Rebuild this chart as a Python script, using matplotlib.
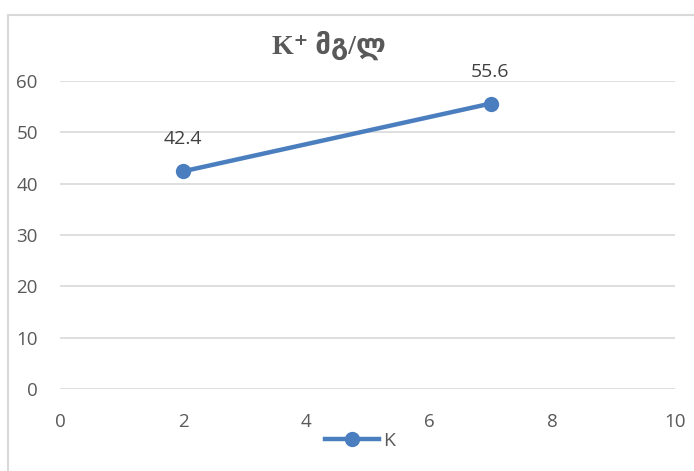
import matplotlib
matplotlib.use("Agg")
import matplotlib.pyplot as plt
from matplotlib.patches import Rectangle

x_vals = [2, 7]
k_vals = [42.4, 55.6]
series_name = "K"
title = "K⁺ მგ/ლ"
x_ticks = [0, 2, 4, 6, 8, 10]
y_ticks = [0, 10, 20, 30, 40, 50, 60]

W, H = 694, 471
fig = plt.figure(figsize=(W / 100, H / 100), dpi=100)
fig.patch.set_facecolor("white")

SANS = ["Open Sans", "DejaVu Sans"]

# outer chart border
fig.patches.append(Rectangle((8 / W, -0.1), 1.2, (471 - 15) / H + 0.1,
                             transform=fig.transFigure, fill=False,
                             edgecolor="#d9d9d9", linewidth=1.5))

ax = fig.add_axes([60 / W, (H - 389) / H, (675 - 60) / W, (389 - 81) / H])
ax.set_xlim(0, 10)
ax.set_ylim(0, 60)
ax.set_xticks(x_ticks)
ax.set_yticks(y_ticks)
for s in ax.spines.values():
    s.set_visible(False)
ax.grid(axis="y", color="#d9d9d9", linewidth=1.2)
ax.set_axisbelow(True)
ax.tick_params(length=0, labelsize=13.5, colors="#595959")
ax.tick_params(axis="x", pad=17)
ax.tick_params(axis="y", pad=16)
for lab in ax.get_xticklabels() + ax.get_yticklabels():
    lab.set_family(SANS)

color = "#4a7ebf"
line, = ax.plot(x_vals, k_vals, color=color, linewidth=3.2, marker="o",
                markersize=10, clip_on=False, label=series_name)
for xv, yv in zip(x_vals, k_vals):
    ax.annotate(f"{yv}", (xv, yv), xytext=(0, 23), textcoords="offset points",
                ha="center", va="center", fontsize=14, color="#404040",
                family=SANS)

fig.text(329 / W, 1 - 45 / H, title, ha="center", va="center", fontsize=20,
         fontweight="bold", color="#595959",
         family=["Liberation Serif", "DejaVu Sans"])

leg = fig.legend(handles=[line], loc="center", bbox_to_anchor=(360 / W, 1 - 441 / H),
                 frameon=False, handlelength=2.8, handletextpad=0.2,
                 prop={"family": SANS, "size": 14})
for t in leg.get_texts():
    t.set_color("#595959")

fig.savefig("out.png", dpi=100)
